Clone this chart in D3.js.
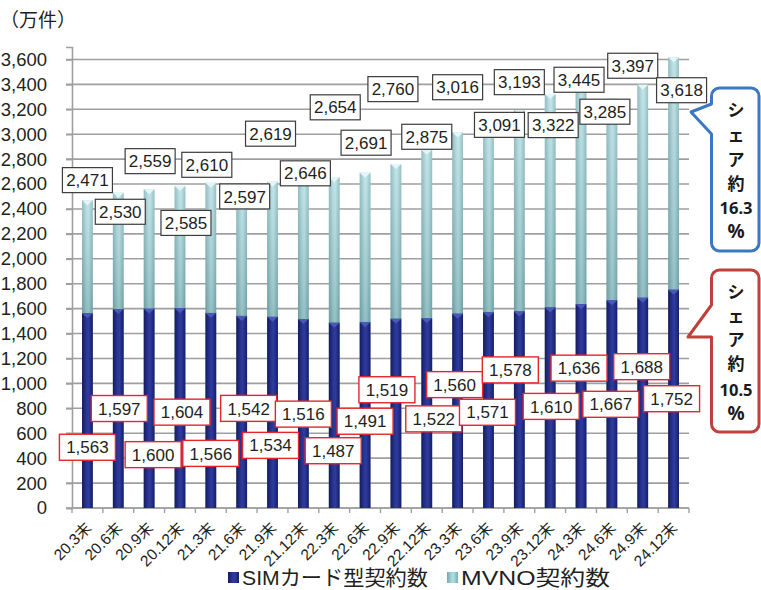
<!DOCTYPE html>
<html>
<head>
<meta charset="utf-8">
<script src="https://cdn.jsdelivr.net/npm/d3@7"></script>
<style>
  body { margin: 0; background: #fff; }
  svg { display: block; }
</style>
</head>
<body>
<svg id="chart" width="761" height="590"></svg>
<script>
// Quarter-end periods
const periods = ["20.3末","20.6末","20.9末","20.12末","21.3末","21.6末","21.9末","21.12末",
  "22.3末","22.6末","22.9末","22.12末","23.3末","23.6末","23.9末","23.12末",
  "24.3末","24.6末","24.9末","24.12末"];

// SIMカード型契約数 (万件)
const simValues = [1563,1597,1600,1604,1566,1542,1534,1516,1487,1491,
  1519,1522,1560,1571,1578,1610,1636,1667,1688,1752];

// MVNO契約数 (万件)
const mvnoValues = [2471,2530,2559,2585,2610,2597,2619,2646,2654,2691,
  2760,2875,3016,3091,3193,3322,3445,3285,3397,3618];

// Y axis tick values
const yTicks = d3.range(0, 3601, 200);

// Series names for the legend
const seriesNames = ["SIMカード型契約数", "MVNO契約数"];

// Share callouts
const shareMvno = "16.3";
const shareSim = "10.5";

// Label placement offsets (px) relative to the bar top and bar centre
const mvnoLabelDy = [-20,19,-28,37,-18,12,-48,-5,-70,-30,-75,-13,-45,2,-28,31,1,13,-19,33];
const mvnoLabelDx = [0,2,1,6,-4,3,-2,2,1,1,-3,0,0,11,0,3,-2,-7,-10,8];
const simLabelDy = [134,99.5,146,104,140.5,92.5,128.5,95,128,99,71,100.5,71,100,58.5,99,64,104,69,109];
const simLabelDx = [0,1,4,2,0,7,-2,0,-1,0,-9,7,-3,-1,-9,1,-2,-1,-1,-2];

const svg = d3.select("#chart");
const numFont = "'Liberation Sans', Arial, sans-serif";
const jpFont = "'Liberation Sans', 'Noto Sans CJK JP', sans-serif";

const plot = { left: 72, right: 689, top: 47, bottom: 508 };

const x = d3.scaleBand()
  .domain(periods)
  .range([plot.left, plot.right])
  .paddingInner(0.65)
  .paddingOuter(0.325);

const y = d3.scaleLinear()
  .domain([0, 3700])
  .range([plot.bottom, plot.top]);

const cx = d => x(d) + x.bandwidth() / 2;
const fmt = d3.format(",");

// Gradients for the cylinder-like bars
const defs = svg.append("defs");
function hGrad(id, stops) {
  const g = defs.append("linearGradient").attr("id", id)
    .attr("x1", "0").attr("x2", "1").attr("y1", "0").attr("y2", "0");
  stops.forEach(([o, c]) => g.append("stop").attr("offset", o).attr("stop-color", c));
}
hGrad("gSim", [[0, "#151b60"], [0.45, "#2b3899"], [0.6, "#2e3b9e"], [1, "#171d65"]]);
hGrad("gMvno", [[0, "#72a9ae"], [0.45, "#a9d9de"], [0.6, "#acdce1"], [1, "#76adb2"]]);
const vg = defs.append("linearGradient").attr("id", "gMvnoShade")
  .attr("x1", "0").attr("x2", "0").attr("y1", "0").attr("y2", "1");
vg.append("stop").attr("offset", 0).attr("stop-color", "#ffffff").attr("stop-opacity", 0.25);
vg.append("stop").attr("offset", 1).attr("stop-color", "#5a7e80").attr("stop-opacity", 0.3);

// Gridlines
svg.append("g")
  .selectAll("line")
  .data(yTicks)
  .join("line")
  .attr("x1", plot.left - 6).attr("x2", plot.right)
  .attr("y1", d => y(d)).attr("y2", d => y(d))
  .attr("stroke", "#9f9f9f").attr("stroke-width", 1.6);

// Y axis
const yAxis = svg.append("g")
  .attr("transform", `translate(${plot.left},0)`)
  .call(d3.axisLeft(y).tickValues(yTicks).tickSize(6).tickPadding(19).tickFormat(fmt));
yAxis.select(".domain").attr("stroke", "#9f9f9f").attr("stroke-width", 1.6);
yAxis.selectAll(".tick line").attr("stroke", "#9f9f9f").attr("stroke-width", 1.6);
yAxis.selectAll("text").attr("font-family", numFont).attr("font-size", 18.5).attr("fill", "#231f20");

// X axis line and boundary ticks
const boundary = i => plot.left + i * x.step();
svg.append("line")
  .attr("x1", plot.left).attr("x2", plot.right)
  .attr("y1", plot.bottom).attr("y2", plot.bottom)
  .attr("stroke", "#9f9f9f").attr("stroke-width", 1.6);
svg.append("g").selectAll("line")
  .data(d3.range(periods.length + 1))
  .join("line")
  .attr("x1", boundary).attr("x2", boundary)
  .attr("y1", plot.bottom).attr("y2", plot.bottom + 5)
  .attr("stroke", "#9f9f9f").attr("stroke-width", 1.4);

// X labels
svg.append("g").selectAll("text")
  .data(periods)
  .join("text")
  .attr("transform", d => `translate(${cx(d) + 5},${plot.bottom + 21}) rotate(-45)`)
  .attr("text-anchor", "end")
  .attr("font-family", jpFont)
  .attr("font-size", 15.5)
  .attr("fill", "#231f20")
  .text(d => d);

// MVNO bars (full height), SIM bars drawn over them from the baseline
const bw = x.bandwidth();
const bars = svg.append("g");
bars.selectAll("rect.mvno")
  .data(periods)
  .join("rect")
  .attr("class", "mvno")
  .attr("x", d => x(d))
  .attr("y", (d, i) => y(mvnoValues[i]))
  .attr("width", bw)
  .attr("height", (d, i) => y(0) - y(mvnoValues[i]))
  .attr("fill", "url(#gMvno)");
bars.selectAll("rect.mvnoShade")
  .data(periods)
  .join("rect")
  .attr("class", "mvnoShade")
  .attr("x", d => x(d))
  .attr("y", (d, i) => y(mvnoValues[i]))
  .attr("width", bw)
  .attr("height", (d, i) => y(simValues[i]) - y(mvnoValues[i]))
  .attr("fill", "url(#gMvnoShade)");
bars.selectAll("path.mvnoCap")
  .data(periods)
  .join("path")
  .attr("class", "mvnoCap")
  .attr("d", (d, i) => {
    const x0 = x(d), t = y(mvnoValues[i]);
    return `M${x0},${t}L${x0 + bw},${t}L${x0 + bw / 2},${t + 5}Z`;
  })
  .attr("fill", "#e4f6f8");
bars.selectAll("rect.sim")
  .data(periods)
  .join("rect")
  .attr("class", "sim")
  .attr("x", d => x(d))
  .attr("y", (d, i) => y(simValues[i]))
  .attr("width", bw)
  .attr("height", (d, i) => y(0) - y(simValues[i]))
  .attr("fill", "url(#gSim)");
bars.selectAll("path.simCap")
  .data(periods)
  .join("path")
  .attr("class", "simCap")
  .attr("d", (d, i) => {
    const x0 = x(d), t = y(simValues[i]);
    return `M${x0},${t}L${x0 + bw},${t}L${x0 + bw / 2},${t + 5}Z`;
  })
  .attr("fill", "#4a58b8");

// Value labels
function labels(cls, values, dxs, dys, w, h, stroke, sw) {
  const g = svg.append("g").selectAll("g." + cls)
    .data(periods)
    .join("g")
    .attr("class", cls)
    .attr("transform", (d, i) => `translate(${cx(d) + dxs[i]},${y(values[i]) + dys[i]})`);
  g.append("rect")
    .attr("x", -w / 2).attr("y", -h / 2)
    .attr("width", w).attr("height", h)
    .attr("fill", "#fff").attr("stroke", stroke).attr("stroke-width", sw);
  g.append("text")
    .attr("text-anchor", "middle")
    .attr("dy", "0.36em")
    .attr("font-family", numFont)
    .attr("font-size", 17)
    .attr("fill", "#231f20")
    .text((d, i) => fmt(values[i]));
}
labels("mvnoLabel", mvnoValues, mvnoLabelDx, mvnoLabelDy, 50, 25, "#3c3c3c", 1.2);
labels("simLabel", simValues, simLabelDx, simLabelDy, 56, 26, "#e5262d", 1.4);

// Unit title
svg.append("text")
  .attr("x", 0).attr("y", 27)
  .attr("font-family", "'Noto Sans CJK JP', sans-serif")
  .attr("font-size", 19)
  .attr("fill", "#231f20")
  .text("（万件）");

// Legend
const legend = svg.append("g");
const legendItems = [
  { name: seriesNames[0], fill: "url(#gSim)", sx: 228, tx: 242, tw: 186 },
  { name: seriesNames[1], fill: "url(#gMvno)", sx: 447, tx: 461, tw: 149 }
];
legendItems.forEach(it => {
  legend.append("rect")
    .attr("x", it.sx).attr("y", 572).attr("width", 11).attr("height", 11)
    .attr("fill", it.fill);
  legend.append("text")
    .attr("x", it.tx).attr("y", 585)
    .attr("font-family", jpFont)
    .attr("font-size", 21)
    .attr("fill", "#231f20")
    .attr("textLength", it.tw)
    .attr("lengthAdjust", "spacingAndGlyphs")
    .text(it.name);
});

// Share callouts
function callout(top, bottom, p1, tip, p2, color, share, rows) {
  const l = 711.5, r = 759, rad = 8;
  const path = d3.path();
  path.moveTo(l + rad, top);
  path.lineTo(r - rad, top);
  path.arcTo(r, top, r, top + rad, rad);
  path.lineTo(r, bottom - rad);
  path.arcTo(r, bottom, r - rad, bottom, rad);
  path.lineTo(l + rad, bottom);
  path.arcTo(l, bottom, l, bottom - rad, rad);
  path.lineTo(l, p2);
  path.lineTo(tip[0], tip[1]);
  path.lineTo(l, p1);
  path.lineTo(l, top + rad);
  path.arcTo(l, top, l + rad, top, rad);
  path.closePath();
  svg.append("path").attr("d", path.toString())
    .attr("fill", "#fff").attr("stroke", color).attr("stroke-width", 3)
    .attr("stroke-linejoin", "round");
  const chars = ["シ", "ェ", "ア", "約"];
  chars.forEach((c, i) => {
    svg.append("text")
      .attr("x", 736).attr("y", rows[i])
      .attr("text-anchor", "middle").attr("dy", "0.36em")
      .attr("font-family", "'Noto Sans CJK JP', sans-serif")
      .attr("font-weight", 700).attr("font-size", 17)
      .attr("fill", "#1a1a1a").text(c);
  });
  svg.append("text")
    .attr("x", 736).attr("y", rows[4])
    .attr("text-anchor", "middle").attr("dy", "0.36em")
    .attr("font-family", "'Noto Sans', sans-serif")
    .attr("font-weight", 700).attr("font-size", 16.5)
    .attr("fill", "#1a1a1a").text(share);
  svg.append("text")
    .attr("x", 736).attr("y", rows[5])
    .attr("text-anchor", "middle").attr("dy", "0.36em")
    .attr("font-family", "'Noto Sans', sans-serif")
    .attr("font-weight", 700).attr("font-size", 19)
    .attr("fill", "#1a1a1a").text("%");
}
callout(88, 251, 104, [691, 112], 134, "#3a78c2", shareMvno, [110, 135, 160, 184, 208, 231]);
callout(270, 432, 305, [688, 337], 337, "#c0403c", shareSim, [292, 316, 340, 364, 390, 413]);
</script>
</body>
</html>
